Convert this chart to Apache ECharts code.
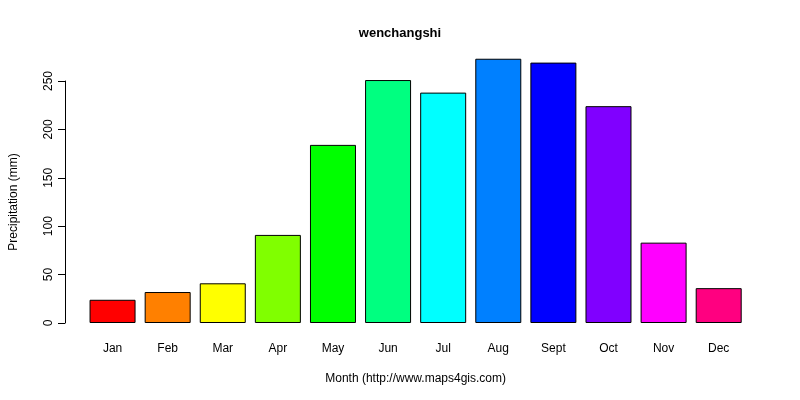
<!DOCTYPE html>
<html><head><meta charset="utf-8">
<script src="https://cdn.jsdelivr.net/npm/echarts@6/dist/echarts.min.js"></script>
<style>html,body{margin:0;background:#fff}#c{width:800px;height:400px}</style>
</head><body><div id="c"></div>
<script>
var months = ["Jan","Feb","Mar","Apr","May","Jun","Jul","Aug","Sept","Oct","Nov","Dec"];
var precip = [24,32,41,91,184,251,238,273,269,224,83,36];
var colors = ["#FF0000","#FF8000","#FFFF00","#80FF00","#00FF00","#00FF80","#00FFFF","#0080FF","#0000FF","#8000FF","#FF00FF","#FF0080"];
var yTicks = [0,50,100,150,200,250];
var chart = echarts.init(document.getElementById('c'));
var F = "Liberation Sans, Arial, sans-serif";
chart.setOption({
  animation:false,
  title:{text:"wenchangshi",left:'center',top:22,textStyle:{fontFamily:F,fontSize:13,fontWeight:'bold',color:'#000'}},
  grid:{left:80.25,right:53.75,top:81,bottom:77},
  xAxis:{type:'category',data:months,axisLine:{show:false},axisTick:{show:false},
    axisLabel:{fontFamily:F,fontSize:12,color:'#000',margin:20},
    name:"Month (http://www.maps4gis.com)",nameLocation:'middle',nameGap:50,
    nameTextStyle:{fontFamily:F,fontSize:12,color:'#000'}},
  yAxis:{type:'value',min:0,max:250,interval:50,offset:20,splitLine:{show:false},
    axisLine:{show:true,lineStyle:{color:'#000'}},axisTick:{show:true,length:7,lineStyle:{color:'#000'}},
    axisLabel:{fontFamily:F,fontSize:12,color:'#000',rotate:90,margin:10,
      formatter:function(v){return yTicks.indexOf(v)>=0?String(v):'';}},
    name:"Precipitation (mm)",nameLocation:'middle',nameGap:45,
    nameTextStyle:{fontFamily:F,fontSize:12,color:'#000'}},
  series:[{type:'bar',clip:false,barWidth:46,
    data:precip.map(function(v,i){return {value:v,itemStyle:{color:colors[i]}};}),
    itemStyle:{borderColor:'#000',borderWidth:1}}]
});
</script></body></html>
